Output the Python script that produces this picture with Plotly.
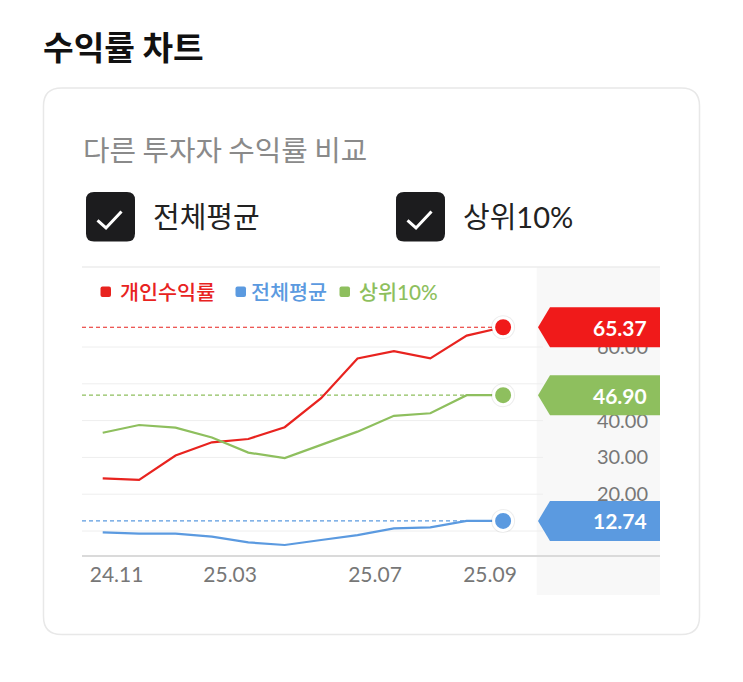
import plotly.graph_objects as go

# ---------------- data ----------------
x_idx = list(range(12))
personal = [24.3, 23.9, 30.5, 34.1, 35.0, 38.2, 46.1, 56.9, 58.9, 56.9, 63.1, 65.37]
average = [9.65, 9.3, 9.3, 8.45, 6.9, 6.2, 7.55, 8.9, 10.7, 11.0, 12.74, 12.74]
top10 = [36.7, 38.8, 38.1, 35.4, 31.3, 29.8, 33.4, 37.0, 41.3, 42.0, 46.90, 46.90]
x_tick_labels = ["24.11", "25.03", "25.07", "25.09"]
x_tick_pos = [0.38, 3.50, 7.48, 10.64]
y_ticks = [10, 20, 30, 40, 50, 60]

series_names = ["개인수익률", "전체평균", "상위10%"]
series_colors = ["#e8231f", "#5b9ae0", "#8ebf5e"]
tag_colors = ["#f01a1a", "#5b9ae0", "#8ebf5e"]
series_values = [personal, average, top10]

# ---------------- geometry helpers ----------------
W, H = 743, 682
L, R, T, B = 82, 660, 267, 555
X_RANGE = [-0.569, 15.31]
Y_RANGE = [3.48, 81.74]


def PX(X):
    return (X - L) / (R - L)


def PY(Y):
    return (B - Y) / (B - T)


def rrect(x0, y0, x1, y1, r):
    pts = [
        ("M", x0 + r, y0), ("L", x1 - r, y0), ("Q", x1, y0, x1, y0 + r),
        ("L", x1, y1 - r), ("Q", x1, y1, x1 - r, y1), ("L", x0 + r, y1),
        ("Q", x0, y1, x0, y1 - r), ("L", x0, y0 + r), ("Q", x0, y0, x0 + r, y0),
    ]
    s = ""
    for p in pts:
        if p[0] == "Q":
            s += f"Q{PX(p[1]):.5f},{PY(p[2]):.5f} {PX(p[3]):.5f},{PY(p[4]):.5f} "
        else:
            s += f"{p[0]}{PX(p[1]):.5f},{PY(p[2]):.5f} "
    return s + "Z"


FONT = "Lato, 'Noto Sans CJK KR', sans-serif"
KFONT = "'Noto Sans CJK KR', Lato, sans-serif"

fig = go.Figure()

# lines
for name, col, vals in zip(series_names, series_colors, series_values):
    fig.add_trace(go.Scatter(x=x_idx, y=vals, mode="lines", line=dict(color=col, width=2.2),
                             name=name, showlegend=False, hoverinfo="skip"))

# end markers (shadow + dot)
for name, col, vals in zip(series_names, tag_colors, series_values):
    fig.add_trace(go.Scatter(x=[x_idx[-1]], y=[vals[-1]], mode="markers",
                             marker=dict(size=24, color="rgba(0,0,0,0.07)", line=dict(width=0)),
                             showlegend=False, hoverinfo="skip"))
    fig.add_trace(go.Scatter(x=[x_idx[-1]], y=[vals[-1]], mode="markers",
                             marker=dict(size=19, color=col, line=dict(color="white", width=3)),
                             showlegend=False, hoverinfo="skip"))

shapes = []
annotations = []
# card
shapes.append(dict(type="path", xref="paper", yref="paper", path=rrect(43.5, 88, 699.5, 634.5, 18),
                   line=dict(color="#e8e8e8", width=1.5), fillcolor="rgba(0,0,0,0)", layer="below"))
# right panel
shapes.append(dict(type="rect", xref="paper", yref="paper", x0=PX(536.7), x1=1, y0=PY(595), y1=1,
                   fillcolor="#f8f8f8", line=dict(width=0), layer="below"))
# top border of chart
shapes.append(dict(type="line", xref="paper", yref="paper", x0=0, x1=1, y0=1, y1=1,
                   line=dict(color="#ececec", width=1.5), layer="below"))
# gridlines
for v in y_ticks:
    shapes.append(dict(type="line", xref="paper", yref="y", x0=0, x1=PX(543), y0=v, y1=v,
                       line=dict(color="#eeeeee", width=1), layer="below"))
# dashed reference lines
for col, vals in zip(series_colors, series_values):
    shapes.append(dict(type="line", xref="x", yref="y", x0=X_RANGE[0], x1=x_idx[-1],
                       y0=vals[-1], y1=vals[-1], line=dict(color=col, width=1.2, dash="4px,3px"),
                       layer="below"))
# value tags
for col, vals in zip(tag_colors, series_values):
    shapes.append(dict(type="path", xref="paper", yref="y", xsizemode="pixel", ysizemode="pixel",
                       xanchor=1, yanchor=vals[-1],
                       path="M0,20 L-110,20 L-122,0 L-110,-20 L0,-20 Z",
                       fillcolor=col, line=dict(width=0), layer="above"))
    annotations.append(dict(text=f"<b>{vals[-1]:.2f}</b>", xref="paper", yref="y", x=1, y=vals[-1],
                            xanchor="right", yanchor="middle", xshift=-11, showarrow=False,
                            font=dict(family=FONT, size=21, color="white")))

# legend (colored square + colored label)
legend_sq = [100.5, 235.5, 339.5]
legend_tx = [117.5, 248.5, 356.5]
for sx, tx, name, col in zip(legend_sq, legend_tx, series_names, series_colors):
    shapes.append(dict(type="path", xref="paper", yref="paper", path=rrect(sx, 286.5, sx + 10.5, 297, 2),
                       fillcolor=col, line=dict(width=0), layer="above"))
    annotations.append(dict(text=name, xref="paper", yref="paper", x=PX(tx), y=PY(291.5),
                            xanchor="left", yanchor="middle", showarrow=False,
                            font=dict(family=FONT, size=20.7, color=col, weight=500)))

# checkboxes
for bx in [86, 396]:
    shapes.append(dict(type="path", xref="paper", yref="paper", path=rrect(bx, 192, bx + 49, 241.5, 8),
                       fillcolor="#1c1c1e", line=dict(width=0), layer="above"))
    shapes.append(dict(type="path", xref="paper", yref="paper",
                       path=f"M{PX(bx + 11.5):.5f},{PY(220.5):.5f} L{PX(bx + 20):.5f},{PY(228):.5f} "
                            f"L{PX(bx + 35.5):.5f},{PY(211.5):.5f}",
                       line=dict(color="white", width=3), layer="above"))

annotations.append(dict(text="<b>수익률 차트</b>", xref="paper", yref="paper", x=PX(41), y=PY(45),
                        xanchor="left", yanchor="middle", showarrow=False,
                        font=dict(family=KFONT, size=33.3, color="#111111")))
annotations.append(dict(text="다른 투자자 수익률 비교", xref="paper", yref="paper", x=PX(81), y=PY(148),
                        xanchor="left", yanchor="middle", showarrow=False,
                        font=dict(family=KFONT, size=28.8, color="#8a8a8a")))
for bx, label in [(151, "전체평균"), (461, "상위10%")]:
    annotations.append(dict(text=label, xref="paper", yref="paper", x=PX(bx), y=PY(216),
                            xanchor="left", yanchor="middle", showarrow=False,
                            font=dict(family=FONT, size=29, color="#222222")))

fig.update_layout(
    width=W, height=H,
    margin=dict(l=L, r=W - R, t=T, b=H - B, pad=0),
    paper_bgcolor="white", plot_bgcolor="rgba(0,0,0,0)",
    font=dict(family=FONT, color="#777777"),
    showlegend=False,
    xaxis=dict(range=X_RANGE, tickvals=x_tick_pos, ticktext=x_tick_labels, showgrid=False,
               zeroline=False, showline=True, linecolor="#dadada", linewidth=2, ticks="",
               tickfont=dict(family=FONT, size=21, color="#777777"), fixedrange=True),
    yaxis=dict(range=Y_RANGE, side="right", tickvals=y_ticks, tickformat=".2f", showgrid=False,
               zeroline=False, showline=False, ticks="", ticklabelposition="inside",
               ticklabelstandoff=9,
               tickfont=dict(family=FONT, size=20, color="#777777"), fixedrange=True),
    shapes=shapes,
    annotations=annotations,
    hovermode=False,
)

fig.write_html("out.html", config={"displayModeBar": False})
